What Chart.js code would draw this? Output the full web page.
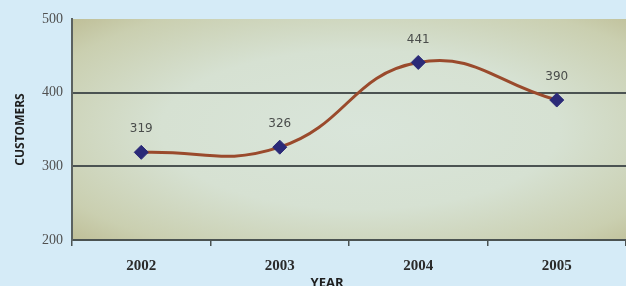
<!DOCTYPE html>
<html>
<head>
<meta charset="utf-8">
<script src="https://cdn.jsdelivr.net/npm/chart.js@4"></script>
<style>
  html, body { margin: 0; padding: 0; background: #d5ebf7; }
  #wrap { width: 626px; height: 286px; }
</style>
</head>
<body>
<div id="wrap"><canvas id="myChart" width="626" height="286"></canvas></div>
<script>
var years = ["2002", "2003", "2004", "2005"];
var customers = [319, 326, 441, 390];
var yTicks = [200, 300, 400, 500];

// plot area shading: pale centre, olive edges
var plotBg = {
  id: "plotBg",
  beforeDraw: function (chart) {
    var c = chart.ctx, a = chart.chartArea;
    var w = a.right - a.left, h = a.bottom - a.top;
    c.save();
    c.fillStyle = "#d5ebf7";
    c.fillRect(0, 0, chart.width, chart.height);
    c.beginPath();
    c.rect(a.left, a.top, w, h);
    c.clip();
    c.translate(a.left + w * 0.52, a.top + h * 0.5);
    c.scale(w / h, 1);
    var g = c.createRadialGradient(0, 0, 0, 0, 0, h * 0.72);
    g.addColorStop(0, "#d9e5da");
    g.addColorStop(0.5, "#d6e1d2");
    g.addColorStop(0.85, "#cacfb0");
    g.addColorStop(1, "#bfbf98");
    c.fillStyle = g;
    c.fillRect(-w, -h, w * 2, h * 2);
    c.restore();
  }
};

// value labels above points and the x title
var labels = {
  id: "labels",
  afterDatasetsDraw: function (chart) {
    var c = chart.ctx;
    var meta = chart.getDatasetMeta(0);
    c.save();
    c.font = "12px 'DejaVu Sans'";
    c.fillStyle = "#4a4d4b";
    c.textAlign = "center";
    c.textBaseline = "middle";
    meta.data.forEach(function (pt, i) {
      c.fillText(customers[i], pt.x, pt.y - 23);
    });
    c.font = "bold 13px 'Open Sans'";
    c.fillStyle = "#1e1e1e";
    c.fillText("YEAR", 327, 283);
    c.restore();
  }
};

var ctx = document.getElementById("myChart").getContext("2d");
var myChart = new Chart(ctx, {
  type: "line",
  data: {
    labels: years,
    datasets: [
      {
        data: customers,
        borderColor: "#9a4a2c",
        borderWidth: 3,
        tension: 0.45,
        pointStyle: "rectRot",
        pointRadius: 7,
        pointBackgroundColor: "#2b2a78",
        pointBorderColor: "#2b2a78",
        pointBorderWidth: 1,
      },
    ],
  },
  options: {
    responsive: false,
    animation: false,
    layout: { autoPadding: false, padding: { top: 19, right: 0, left: 0, bottom: 0 } },
    plugins: {
      legend: { display: false },
      tooltip: { enabled: false },
    },
    scales: {
      x: {
        offset: true,
        afterFit: function (s) { s.height = 46; },
        grid: {
          offset: true,
          drawOnChartArea: false,
          color: "#4b5352",
          tickLength: 6,
          lineWidth: 1.5,
        },
        border: { color: "#4b5352", width: 2 },
        ticks: {
          color: "#2a2a2a",
          font: { family: "'Liberation Serif'", size: 15, weight: "bold" },
          padding: 11,
        },
      },
      y: {
        min: 200,
        max: 500,
        afterFit: function (s) { s.width = 72; },
        afterBuildTicks: function (s) {
          s.ticks = yTicks.map(function (v) { return { value: v }; });
        },
        grid: {
          color: function (c) {
            return c.tick && (c.tick.value === 300 || c.tick.value === 400) ? "#4b5352" : "rgba(0,0,0,0)";
          },
          lineWidth: 2,
          drawTicks: false,
        },
        border: { color: "#5a6160", width: 2 },
        ticks: {
          color: "#505050",
          font: { family: "'Liberation Serif'", size: 14 },
          padding: 9,
        },
        title: {
          display: true,
          text: "CUSTOMERS",
          color: "#1e1e1e",
          font: { family: "'Open Sans'", size: 12, weight: "bold" },
          padding: { top: 13, bottom: 0 },
        },
      },
    },
  },
  plugins: [plotBg, labels],
});
</script>
</body>
</html>
